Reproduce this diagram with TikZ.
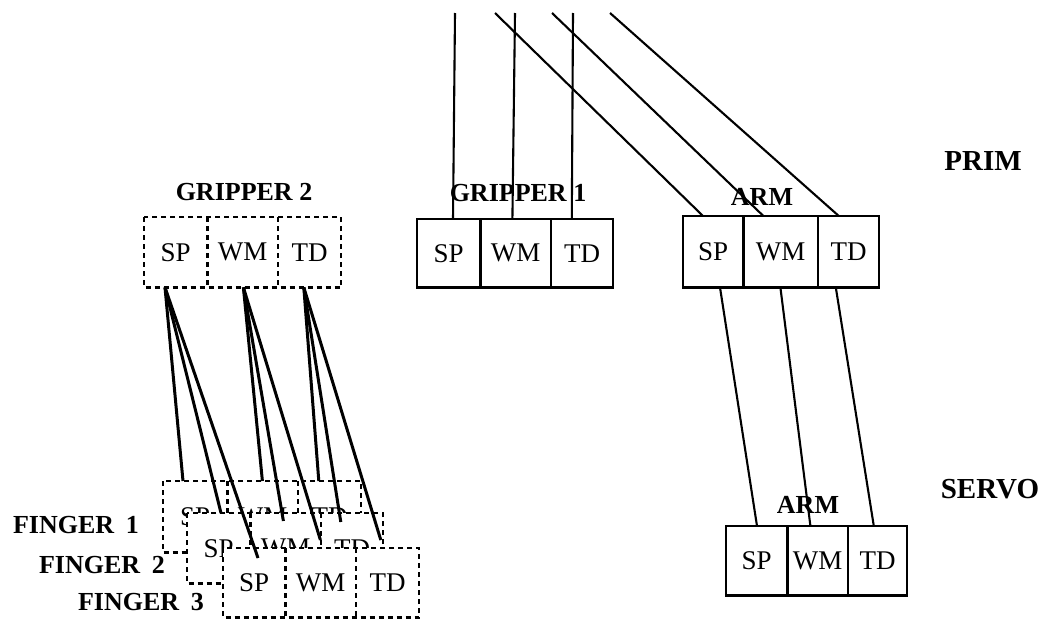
\documentclass[tikz,border=0pt]{standalone}
\usepackage{fontspec}
\setmainfont{Liberation Serif}
\newcommand{\tribox}[8]{%
 \node[cell, minimum width=#4, minimum height=#7] (#1sp) at (#2,#3) {SP};
 \node[cell, minimum width=#5, minimum height=#7] (#1wm) at (#1sp.north east) {WM};
 \node[cell, minimum width=#6, minimum height=#7] (#1td) at (#1wm.north east) {TD};
 \draw[#8] (#1sp.north west) rectangle (#1td.south east);
 \draw[#8] (#1sp.north east) -- (#1sp.south east);
 \draw[#8] (#1wm.north east) -- (#1wm.south east);
}
\begin{document}
\begin{tikzpicture}[x=1pt,y=-1pt,
  cell/.style={inner sep=0pt, anchor=north west, fill=white, font=\fontsize{27}{30}\selectfont},
  solidbox/.style={line width=2.2pt},
  dashbox/.style={line width=2.4pt, dash pattern=on 5pt off 4pt},
  lbl/.style={font=\fontsize{26}{30}\selectfont\bfseries, inner sep=0pt},
  biglbl/.style={font=\fontsize{29}{32}\selectfont\bfseries, inner sep=0pt},
  wire/.style={line width=2.1pt},
  fan/.style={line width=3pt},
]
\fill[white] (0,0) rectangle (1056,621);
\useasboundingbox (0,0) rectangle (1056,621);

% level labels
\node[biglbl] (prim) at (983,161) {PRIM};
\node[biglbl] (servo) at (990,489) {SERVO};

% PRIM boxes
\tribox{g1}{417}{219}{63pt}{70pt}{62pt}{68pt}{solidbox}
\tribox{a1}{683}{216}{60pt}{74pt}{61pt}{71pt}{solidbox}
\node[lbl] (g1lbl) at (518,193) {GRIPPER 1};
\node[lbl] (a1lbl) at (762,197) {ARM};

% SERVO arm
\tribox{a2}{726}{526}{61pt}{60pt}{59pt}{69pt}{solidbox}
\node[lbl] (a2lbl) at (808,505) {ARM};

% Gripper 2 and fingers
\tribox{g2}{144}{217}{63pt}{70pt}{63pt}{70pt}{dashbox}
\node[lbl] (g2lbl) at (244,192) {GRIPPER 2};
\tribox{fa}{163}{481}{64pt}{70pt}{63pt}{71pt}{dashbox}
\tribox{fb}{187}{513}{63pt}{70pt}{62pt}{70pt}{dashbox}
\tribox{fc}{223}{548}{62pt}{70pt}{63pt}{69pt}{dashbox}
\node[lbl] (f1lbl) at (76,525) {FINGER\hspace{0.45em}1};
\node[lbl] (f2lbl) at (102,565) {FINGER\hspace{0.45em}2};
\node[lbl] (f3lbl) at (141,602) {FINGER\hspace{0.45em}3};

% free upper ends
\coordinate (u1) at (455,13);
\coordinate (u2) at (515,13);
\coordinate (u3) at (573,13);
\coordinate (u4) at (495,13);
\coordinate (u5) at (552,13);
\coordinate (u6) at (610,13);

% wires into PRIM boxes
\draw[wire] (u1) -- ([xshift=36pt]g1sp.north west);
\draw[wire] (u2) -- ([xshift=32pt]g1wm.north west);
\draw[wire] (u3) -- ([xshift=21pt]g1td.north west);
\draw[wire] (u4) -- ([xshift=20pt]a1sp.north west);
\draw[wire] (u5) -- ([xshift=20pt]a1wm.north west);
\draw[wire] (u6) -- ([xshift=21pt]a1td.north west);

% PRIM arm to SERVO arm
\draw[wire] ([xshift=37pt]a1sp.south west) -- ([xshift=31pt]a2sp.north west);
\draw[wire] ([xshift=37pt]a1wm.south west) -- ([xshift=23pt]a2wm.north west);
\draw[wire] ([xshift=18pt]a1td.south west) -- ([xshift=26pt]a2td.north west);

% gripper 2 to fingers
\draw[fan] ([xshift=21pt]g2sp.south west) -- ([xshift=20pt]fasp.north west);
\draw[fan] ([xshift=21pt]g2sp.south west) -- ([xshift=34pt]fbsp.north west);
\draw[fan] ([xshift=21pt]g2sp.south west) -- ([xshift=35pt,yshift=-10pt]fcsp.north west);
\draw[fan] ([xshift=36pt]g2wm.south west) -- ([xshift=35pt]fawm.north west);
\draw[fan] ([xshift=36pt]g2wm.south west) -- ([xshift=33pt,yshift=-8pt]fbwm.north west);
\draw[fan] ([xshift=36pt]g2wm.south west) -- ([xshift=35pt,yshift=8pt]fcwm.north west);
\draw[fan] ([xshift=26pt]g2td.south west) -- ([xshift=21pt]fatd.north west);
\draw[fan] ([xshift=26pt]g2td.south west) -- ([xshift=20pt,yshift=-9pt]fbtd.north west);
\draw[fan] ([xshift=26pt]g2td.south west) -- ([xshift=25pt,yshift=8pt]fctd.north west);
\end{tikzpicture}
\end{document}
